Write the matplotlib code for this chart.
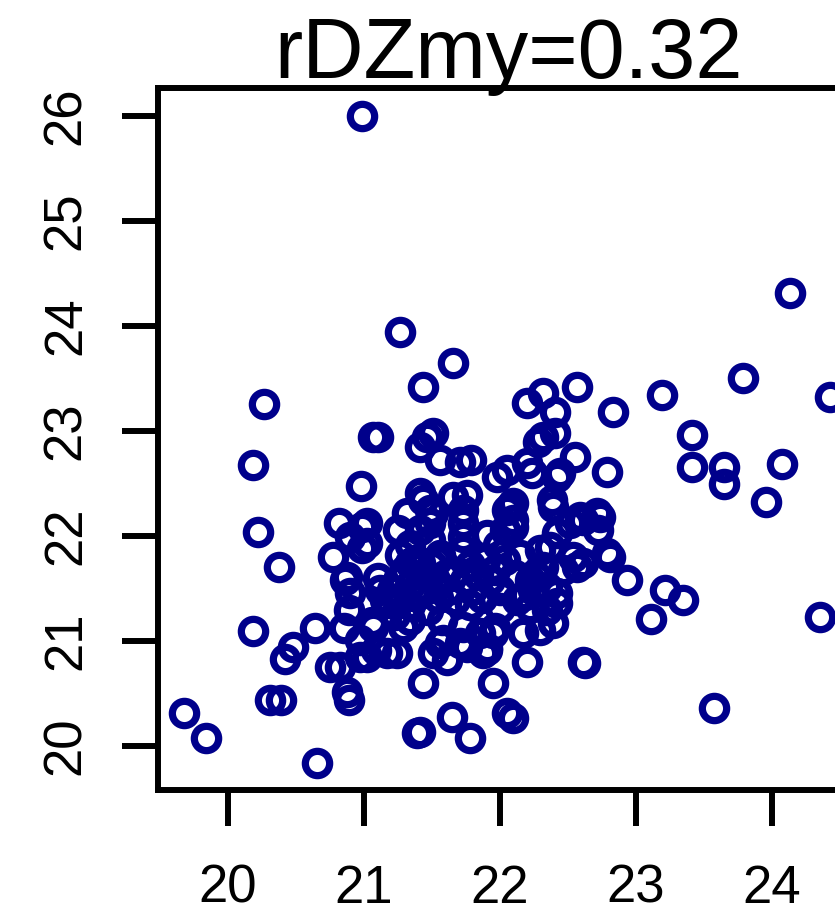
import matplotlib
matplotlib.use("Agg")
import matplotlib.pyplot as plt

plt.rcParams['font.family'] = ['Liberation Sans', 'DejaVu Sans']

title = "rDZmy=0.32"
x_ticks = [20, 21, 22, 23, 24]
y_ticks = [20, 21, 22, 23, 24, 25, 26]

x_vals = [
    20.985, 19.676, 19.838, 20.654, 20.265, 20.184, 20.221, 20.375, 20.184, 20.640,
    20.478, 20.419, 20.309, 20.390, 20.875, 20.890, 20.816, 20.985, 20.897, 20.985,
    20.772, 20.875, 21.103, 20.978, 21.066, 21.103, 21.265, 20.860, 20.897, 20.890,
    20.853, 20.971, 21.059, 20.750, 20.824, 20.971, 21.088, 21.169, 21.243, 21.022,
    21.191, 21.118, 21.022, 21.022, 21.434, 21.654, 21.463, 21.507, 21.412, 21.559,
    21.706, 21.787, 21.412, 21.434, 21.654, 21.757, 21.485, 21.316, 21.507, 21.250,
    21.412, 21.485, 21.728, 21.728, 21.728, 21.728, 21.338, 21.412, 21.537, 22.199,
    22.316, 22.404, 22.566, 22.316, 22.279, 22.404, 22.551, 22.199, 22.051, 22.235,
    22.419, 22.074, 22.096, 22.382, 22.515, 22.610, 22.735, 22.419, 22.096, 22.051,
    22.390, 22.588, 22.713, 22.096, 22.294, 22.368, 22.537, 22.463, 22.272, 22.221,
    22.787, 22.441, 21.978, 22.346, 21.949, 21.904, 21.949, 22.610, 22.199, 22.051,
    22.096, 22.221, 22.346, 22.419, 22.294, 22.390, 22.169, 22.243, 22.184, 22.316,
    22.566, 22.610, 22.419, 21.434, 21.647, 21.779, 21.390, 21.412, 21.507, 21.610,
    21.706, 21.728, 21.559, 21.875, 21.904, 21.963, 21.581, 21.853, 21.757, 21.066,
    21.287, 23.787, 24.426, 23.191, 22.831, 23.412, 23.412, 23.647, 23.647, 24.074,
    23.956, 22.787, 22.721, 22.809, 22.934, 23.213, 23.346, 23.110, 24.353, 22.625,
    23.574, 24.132, 21.154, 21.206, 21.250, 21.265, 21.301, 21.338, 21.338, 21.375,
    21.397, 21.412, 21.449, 21.471, 21.500, 21.522, 21.544, 21.559, 21.596, 21.618,
    21.574, 21.338, 21.228, 21.265, 21.338, 21.485, 21.779, 21.838, 21.890, 21.926,
    21.963, 21.794, 21.868, 22.000, 22.037, 21.985, 22.110, 22.147, 21.743, 21.669,
    21.779, 22.000, 22.125, 21.904, 22.037,
]

y_vals = [
    26.000, 20.314, 20.076, 19.838, 23.257, 22.676, 22.038, 21.705, 21.095, 21.124,
    20.943, 20.829, 20.438, 20.438, 20.514, 20.438, 22.124, 22.086, 21.990, 21.886,
    21.800, 21.610, 21.600, 22.476, 22.943, 22.943, 23.943, 21.581, 21.457, 21.295,
    21.124, 21.010, 21.181, 20.752, 20.752, 20.848, 20.914, 20.886, 20.886, 20.848,
    21.362, 21.486, 22.124, 21.933, 23.419, 23.648, 22.943, 22.981, 22.848, 22.724,
    22.705, 22.724, 22.410, 22.343, 22.371, 22.390, 22.248, 22.219, 22.219, 22.057,
    22.057, 22.124, 22.248, 22.124, 21.990, 21.867, 21.743, 21.743, 21.771, 23.267,
    23.362, 23.181, 23.419, 22.943, 22.895, 22.981, 22.752, 22.695, 22.629, 22.600,
    22.562, 22.276, 22.152, 22.343, 22.124, 22.152, 22.181, 22.029, 22.314, 22.248,
    22.276, 22.181, 22.219, 22.086, 21.867, 21.895, 21.800, 21.676, 21.610, 21.581,
    21.838, 22.600, 22.562, 21.514, 21.076, 20.914, 20.600, 20.800, 20.800, 20.314,
    20.267, 21.324, 21.295, 21.362, 21.105, 21.171, 21.076, 21.486, 21.438, 21.705,
    21.705, 21.743, 21.457, 20.600, 20.276, 20.076, 20.124, 20.133, 20.886, 20.819,
    20.981, 21.133, 20.981, 20.886, 20.933, 21.124, 21.010, 21.076, 20.943, 21.133,
    21.133, 23.505, 23.324, 23.343, 23.181, 22.962, 22.657, 22.657, 22.495, 22.686,
    22.324, 22.610, 22.057, 21.800, 21.581, 21.486, 21.390, 21.210, 21.229, 20.790,
    20.362, 24.314, 21.390, 21.486, 21.581, 21.410, 21.676, 21.533, 21.343, 21.771,
    21.438, 21.629, 21.486, 21.295, 21.724, 21.581, 21.410, 21.819, 21.629, 21.486,
    21.200, 21.200, 21.248, 21.819, 21.914, 21.962, 21.724, 21.629, 21.771, 21.581,
    21.676, 21.486, 21.410, 21.486, 21.771, 21.914, 21.629, 21.819, 21.581, 21.390,
    21.343, 21.314, 21.390, 22.010, 22.057,
]

W, H = 835, 916
fig = plt.figure(figsize=(W / 100, H / 100), dpi=100)
ax = fig.add_axes([158 / W, 1 - 790 / H, 704 / W, 702 / H])

ax.plot(x_vals, y_vals, linestyle='none', marker='o', markersize=17.5,
        markerfacecolor='none', markeredgecolor='#00008B', markeredgewidth=5.2,
        clip_on=False)

ax.set_xlim(19.485, 24.662)
ax.set_ylim(19.581, 26.267)
ax.set_xticks(x_ticks)
ax.set_yticks(y_ticks)
ax.set_xticklabels([str(t) for t in x_ticks])
ax.set_yticklabels([str(t) for t in y_ticks], rotation=90, va='center')

for s in ['left', 'top', 'bottom', 'right']:
    ax.spines[s].set_linewidth(4.3)
    ax.spines[s].set_color('black')

ax.tick_params(axis='both', length=26, width=4.3, labelsize=38, color='black')
ax.tick_params(axis='x', pad=27)
ax.tick_params(axis='y', pad=22)

fig.text(508 / W, 1 - 78 / H, title, ha='center', va='baseline', fontsize=61)

fig.savefig('out.png', dpi=100)
